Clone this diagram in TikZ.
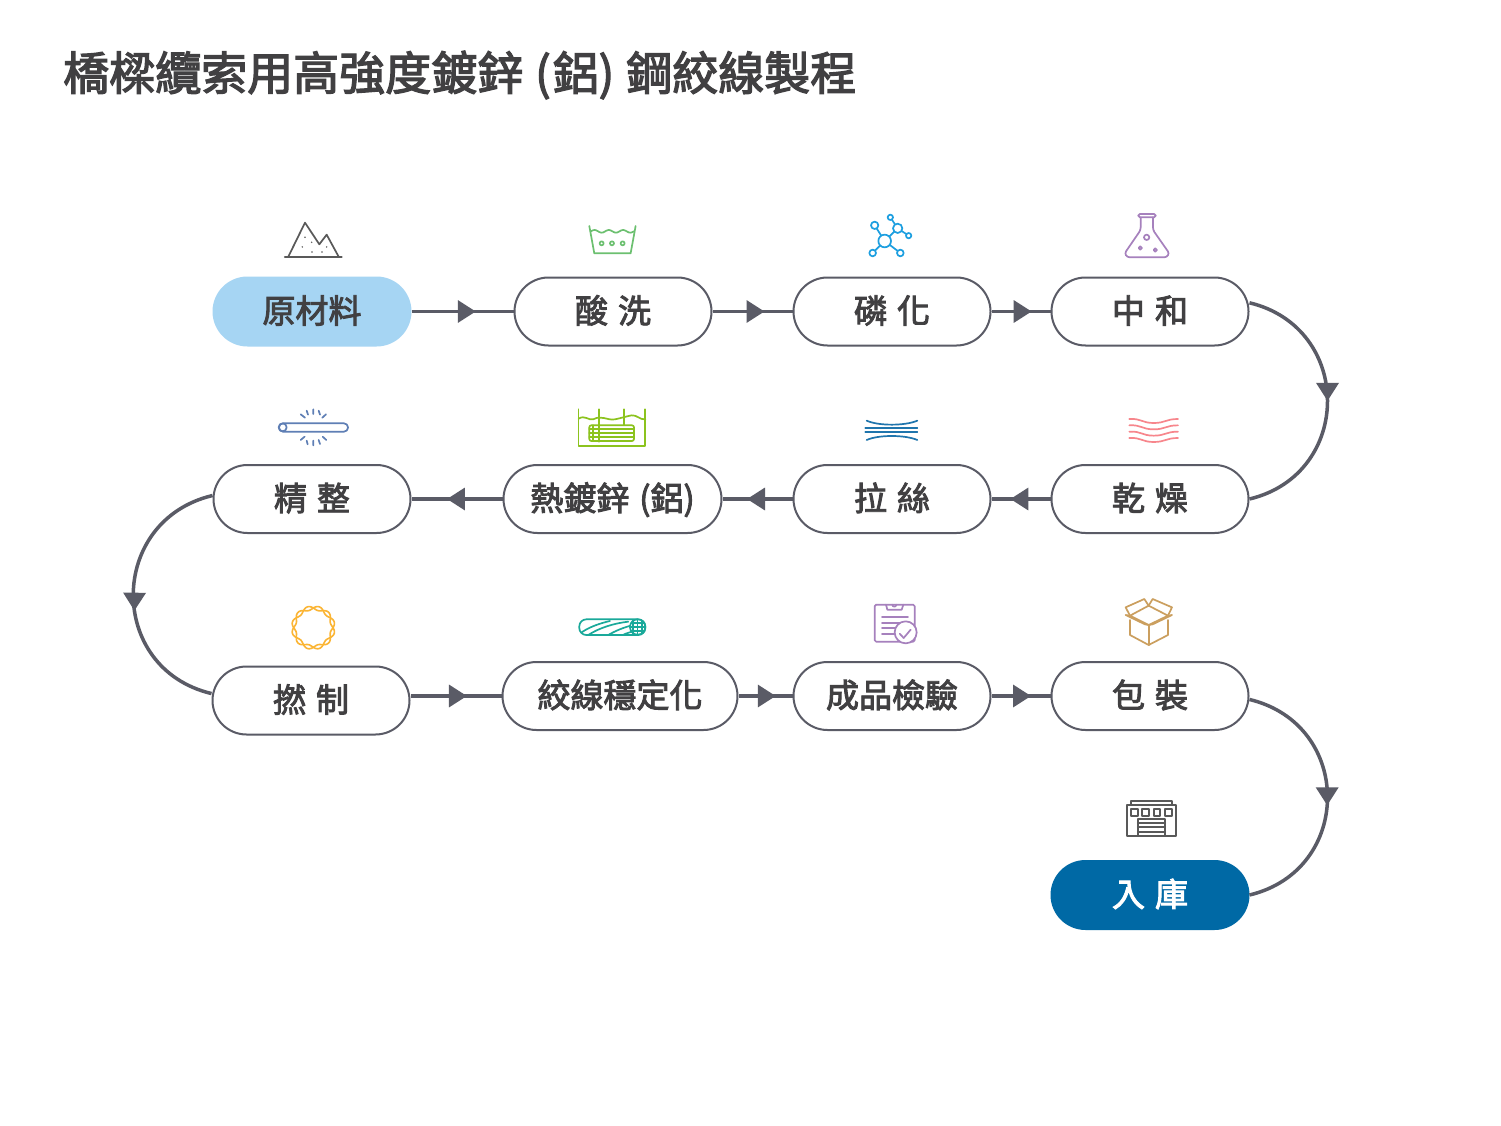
\documentclass[tikz,border=0pt]{standalone}
\usepackage{fontspec}
\usepackage{xcolor}
\usepackage{tikz}
\usetikzlibrary{arrows.meta, decorations.markings}
\setmainfont{Noto Sans CJK TC}
\newfontfamily\labelfont[FakeBold=2.8]{Noto Sans CJK TC}
\newfontfamily\titlefont[FakeBold=2.8]{Noto Sans CJK TC}
\newcommand{\labelgap}{\hspace{10pt}}
\definecolor{linegray}{HTML}{5A5B66}
\definecolor{textgray}{HTML}{414042}
\definecolor{startblue}{HTML}{A6D5F3}
\definecolor{endblue}{HTML}{0069A5}
\definecolor{washgreen}{HTML}{6CC070}
\definecolor{molblue}{HTML}{1D9FE0}
\definecolor{flaskpurple}{HTML}{A681BD}
\definecolor{rodblue}{HTML}{5F7FB5}
\definecolor{bathgreen}{HTML}{8CC31E}
\definecolor{wireblue}{HTML}{1F75AD}
\definecolor{dryred}{HTML}{F7868C}
\definecolor{ringyellow}{HTML}{FBB534}
\definecolor{cableteal}{HTML}{1AA99A}
\definecolor{boxtan}{HTML}{CB9F5F}
\tikzset{
	stepbox/.style={draw=linegray, line width=2pt, fill=white, text=textgray, rounded corners=34pt,
		minimum height=68pt, inner sep=0pt, text height=29pt, text depth=6pt,
		font=\fontsize{33pt}{33pt}\labelfont},
	conn/.style={draw=linegray, line width=3.5pt},
	arrowat/.style={postaction={decorate}, decoration={markings, mark=at position #1 with
		{\arrow[linegray]{Triangle[length=18pt, width=22pt]}}}},
	arrowturned/.style 2 args={postaction={decorate}, decoration={markings, mark=at position #1 with
		{\pgftransformrotate{#2}\arrow[linegray]{Triangle[length=18pt, width=22pt]}}}},
	zoomed/.style={x=.3333pt, y=-.3333pt},
	icon/.style={line width=1.7pt, line cap=round, line join=round}
}
\begin{document}
\begin{tikzpicture}[x=1pt, y=-1pt]
	\useasboundingbox[fill=white] (0,0) rectangle (1501,1126);

	\node[anchor=west, inner sep=0pt, text=textgray, font=\fontsize{46pt}{46pt}\titlefont] (title) at (63,75) {橋樑纜索用高強度鍍鋅\hspace{12pt}(\hspace{2pt}鋁)\hspace{12pt}鋼絞線製程};

	\foreach \name/\x/\y/\w/\label in {
		suanxi/613/311.5/197/酸\labelgap 洗,
		linhua/892/311.5/197/磷\labelgap 化,
		zhonghe/1150/311.5/197/中\labelgap 和,
		jingzheng/312/499/197/精\labelgap 整,
		rejin/612.5/499/218/熱鍍鋅\labelgap (鋁),
		lasi/892/499/197/拉\labelgap 絲,
		ganzao/1150/499/197/乾\labelgap 燥,
		nianzhi/311/700.5/197/撚\labelgap 制,
		jiaoxian/620/696/235/絞線穩定化,
		jianyan/892/696/197/成品檢驗,
		baozhuang/1150/696/197/包\labelgap 裝
	}{
		\node[stepbox, minimum width=\w pt] (\name) at (\x,\y) {\label};
	}
	\node[stepbox, minimum width=197pt, draw=startblue, fill=startblue] (yuanliao) at (312,311.5) {原材料};
	\node[stepbox, minimum width=197pt, draw=endblue, fill=endblue, text=white] (ruku) at (1150,895) {入\labelgap 庫};

	\draw[conn, arrowat=0.63] (yuanliao) -- (suanxi);
	\draw[conn, arrowat=0.65] (suanxi) -- (linhua);
	\draw[conn, arrowat=0.68] (linhua) -- (zhonghe);
	\draw[conn, arrowat=0.68] (ganzao) -- (lasi);
	\draw[conn, arrowat=0.65] (lasi) -- (rejin);
	\draw[conn, arrowat=0.61] (rejin) -- (jingzheng);
	\draw[conn, arrowat=0.62] (nianzhi.east |- jiaoxian.west) -- (jiaoxian);
	\draw[conn, arrowat=0.69] (jiaoxian) -- (jianyan);
	\draw[conn, arrowat=0.67] (jianyan) -- (baozhuang);
	\draw[conn, arrowat=0.5] (zhonghe.5) .. controls +(104,25) and +(104,-25) .. (ganzao.east);
	\draw[conn, arrowturned={0.56}{-9}] (jingzheng.178) .. controls +(-105,25) and +(-105,-25) .. (nianzhi.176);
	\draw[conn, arrowturned={0.53}{4.5}] (baozhuang.-2) .. controls +(104,25) and +(104,-25) .. (ruku.east);

	% raw material
	\begin{scope}[shift={(260,200)}, zoomed, icon, draw=black!65, fill=black!65]
		\draw[line width=2.2pt] (75,171) -- (245,171);
		\draw (85,170) -- (135,68) -- (178,133) -- (200,104) -- (236,170);
		\foreach \x/\y in {135/112, 155/127, 127/141, 200/141, 156/156, 186/156}{
			\fill (\x,\y) circle (2.5);
		}
	\end{scope}

	% pickling
	\begin{scope}[shift={(260,200)}, zoomed, icon, draw=washgreen]
		\draw (988,78) -- (1003,160) -- (1112,160) -- (1127,78);
		\draw plot[smooth, domain=0:129, samples=37] ({993+\x}, {94-4*sin(\x*8.4)});
		\foreach \x in {1025,1056,1088}{
			\draw (\x,130) circle (6);
		}
	\end{scope}

	% phosphating
	\begin{scope}[shift={(850,200)}, zoomed, icon, draw=molblue]
		\draw (104,123) -- (74,76) (104,123) -- (143,85) -- (121,52) (143,85) -- (176,107);
		\draw (68,159) -- (104,123) -- (151,159);
		\foreach \x/\y/\r in {104/123/19, 74/76/11, 143/85/14, 121/52/8, 176/107/8, 68/159/10, 151/159/10}{
			\draw[fill=white] (\x,\y) circle (\r);
		}
	\end{scope}

	% neutralizing
	\begin{scope}[shift={(850,200)}, zoomed, icon, draw=flaskpurple]
		\draw[rounded corners=1.5pt] (865,42) rectangle (917,52);
		\draw[rounded corners=2.5pt] (872,52) -- (872,90) -- (824,160) -- (832,172) -- (950,172) -- (958,160) -- (909,90) -- (909,52);
		\draw (890,112) circle (8) (871,144) circle (5) (916,150) circle (5);
	\end{scope}

	% drying
	\begin{scope}[shift={(850,400)}, zoomed, icon, draw=dryred]
		\foreach \y in {57,76,95,114}{
			\draw (838,\y) .. controls (875,\y-2) and (875,\y+12) .. (911,\y+12) .. controls (947,\y+12) and (947,\y) .. (984,\y);
		}
	\end{scope}

	% wire drawing
	\begin{scope}[shift={(850,400)}, zoomed, icon, draw=wireblue]
		\draw (50,62) .. controls (85,78) and (165,78) .. (202,62);
		\draw (46,85) -- (202,85) (46,97) -- (202,97);
		\draw (50,120) .. controls (85,104) and (165,104) .. (202,120);
	\end{scope}

	% hot dip
	\begin{scope}[shift={(260,400)}, zoomed, icon, draw=bathgreen]
		\draw (956,28) -- (956,138) -- (1156,138) -- (1156,28);
		\draw (1017,28) -- (1017,125) (1092,28) -- (1092,76);
		\draw (956,56) .. controls (975,44) and (985,62) .. (1000,58) .. controls (1025,44) and (1040,62) .. (1065,58) .. controls (1085,54) and (1095,50) .. (1115,46) .. controls (1130,44) and (1140,60) .. (1156,58);
		\draw[rounded corners=2pt] (988,76) rectangle (1122,123);
		\draw (988,88) -- (1122,88) (988,100) -- (1122,100) (988,112) -- (1122,112) (1000,76) -- (1000,123);
	\end{scope}

	% finishing
	\begin{scope}[shift={(260,400)}, zoomed, icon, draw=rodblue]
		\draw[rounded corners=4pt] (57,70) rectangle (264,95);
		\draw (68,82) circle (12);
		\draw (122,43) -- (135,53) (140,32) -- (144,44) (160,28) -- (160,42) (176,32) -- (180,44) (198,43) -- (187,53);
		\draw (122,120) -- (134,110) (140,122) -- (143,133) (160,122) -- (160,136) (176,120) -- (180,132) (188,110) -- (199,120);
	\end{scope}

	% stranding
	\begin{scope}[shift={(280,595)}, zoomed, icon, draw=ringyellow, line width=1.6pt]
		\draw plot[smooth cycle, domain=0:358, samples=120] ({100+(59+6*sin(6*\x))*cos(\x)}, {98+(59+6*sin(6*\x))*sin(\x)});
		\draw plot[smooth cycle, domain=0:358, samples=120] ({100+(59-6*sin(6*\x))*cos(\x)}, {98+(59-6*sin(6*\x))*sin(\x)});
	\end{scope}

	% stabilizing
	\begin{scope}[shift={(280,595)}, zoomed, icon, draw=cableteal]
		\draw[rounded corners=7pt] (898,73) rectangle (1096,120);
		\draw (905,112) .. controls (930,95) and (960,85) .. (990,78);
		\draw (925,120) .. controls (955,100) and (1000,85) .. (1045,80);
		\draw (985,120) .. controls (1005,108) and (1030,98) .. (1052,92);
		\draw (1032,118) -- (1055,110);
		\draw[fill=white] (1073,96) circle (23);
		\draw (1050,96) -- (1096,96) (1073,73) -- (1073,119);
		\draw (1060,77) -- (1060,115) (1086,77) -- (1086,115) (1054,84) -- (1092,84) (1054,108) -- (1092,108);
	\end{scope}

	% inspection
	\begin{scope}[shift={(860,595)}, zoomed, icon, draw=flaskpurple]
		\draw[rounded corners=1.5pt] (44,29) rectangle (164,140);
		\draw (78,29) -- (82,44) -- (125,44) -- (130,29);
		\draw (97,29) arc (180:0:6);
		\draw (66,67) -- (144,67) (66,85) -- (122,85) (66,99) -- (108,99) (66,116) -- (104,116);
		\draw[fill=white] (137,112) circle (33);
		\draw (119,116) -- (131,129) -- (152,104);
	\end{scope}

	% packing
	\begin{scope}[shift={(860,595)}, zoomed, icon, draw=boxtan]
		\draw (810,75) -- (810,120) -- (866,150) -- (924,120) -- (924,75);
		\draw (866,90) -- (866,150);
		\draw (810,62) -- (866,32) -- (924,62) -- (866,90) -- cycle;
		\draw (810,62) -- (797,37) -- (853,12) -- (866,32);
		\draw (924,62) -- (936,37) -- (878,12) -- (866,32);
		\draw (810,62) -- (797,60) -- (855,88) -- (866,90);
		\draw (924,62) -- (936,60) -- (878,88) -- (866,90);
	\end{scope}

	% warehouse
	\begin{scope}[shift={(1110,790)}, zoomed, icon, draw=black!65]
		\draw (50,137) -- (50,45) -- (198,45) -- (198,137) -- cycle;
		\draw (63,45) -- (63,32) -- (185,32) -- (185,45);
		\foreach \x in {63,97,131,165}{
			\draw (\x,57) rectangle (\x+20,77);
		}
		\draw (83,137) -- (83,87) -- (166,87) -- (166,137);
		\draw (83,100) -- (166,100) (83,112) -- (166,112) (83,125) -- (166,125);
	\end{scope}
\end{tikzpicture}
\end{document}
